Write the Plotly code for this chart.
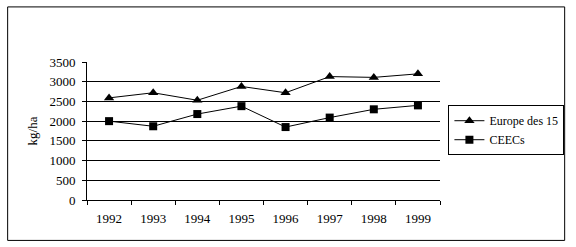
import plotly.graph_objects as go

years = ["1992", "1993", "1994", "1995", "1996", "1997", "1998", "1999"]
europe15 = [2590, 2720, 2530, 2880, 2720, 3130, 3110, 3200]
ceecs = [2000, 1870, 2180, 2380, 1850, 2090, 2300, 2400]

W, H = 576, 247
L, R, T, B = 86.7, 443.5, 61.7, 200.0
pw, ph = R - L, B - T

def px(x):
    return (x - L) / pw

def py(y):
    return (B - y) / ph

font = dict(family="Liberation Serif, Times New Roman, serif", size=13, color="black")
lfont = dict(family="Liberation Serif, Times New Roman, serif", size=12, color="black")

fig = go.Figure()
fig.add_trace(go.Scatter(x=years, y=europe15, name="Europe des 15", mode="lines+markers",
                         line=dict(color="black", width=1),
                         marker=dict(symbol="triangle-up", size=9, color="black")))
fig.add_trace(go.Scatter(x=years, y=ceecs, name="CEECs", mode="lines+markers",
                         line=dict(color="black", width=1),
                         marker=dict(symbol="square", size=8, color="black")))

fig.update_layout(
    width=W, height=H,
    margin=dict(l=L, r=W - R, t=T, b=H - B, pad=0),
    paper_bgcolor="white", plot_bgcolor="white",
    font=font,
    showlegend=True,
    legend=dict(x=px(452), y=py(105), xanchor="left", yanchor="top",
                bordercolor="black", borderwidth=1, bgcolor="white",
                font=lfont, tracegroupgap=0, itemwidth=30),
    xaxis=dict(type="category", showline=True, linecolor="black", linewidth=1,
               ticks="outside", ticklen=4, tickcolor="black", tickson="boundaries",
               showgrid=False, tickfont=font, range=[-0.5, 7.5], ticklabelstandoff=6),
    yaxis=dict(range=[0, 3500], dtick=500, showline=True, linecolor="black", linewidth=1,
               ticks="outside", ticklen=4, tickcolor="black",
               showgrid=True, gridcolor="black", gridwidth=1, zeroline=False,
               tickfont=font, ticklabelstandoff=4,
               title=dict(text="kg/ha", font=font, standoff=8)),
)

fig.add_shape(type="rect", xref="paper", yref="paper",
              x0=px(6.5), x1=px(569.5), y0=py(240.5), y1=py(6.5),
              line=dict(color="black", width=1), layer="below")

fig.write_html("out.html")
